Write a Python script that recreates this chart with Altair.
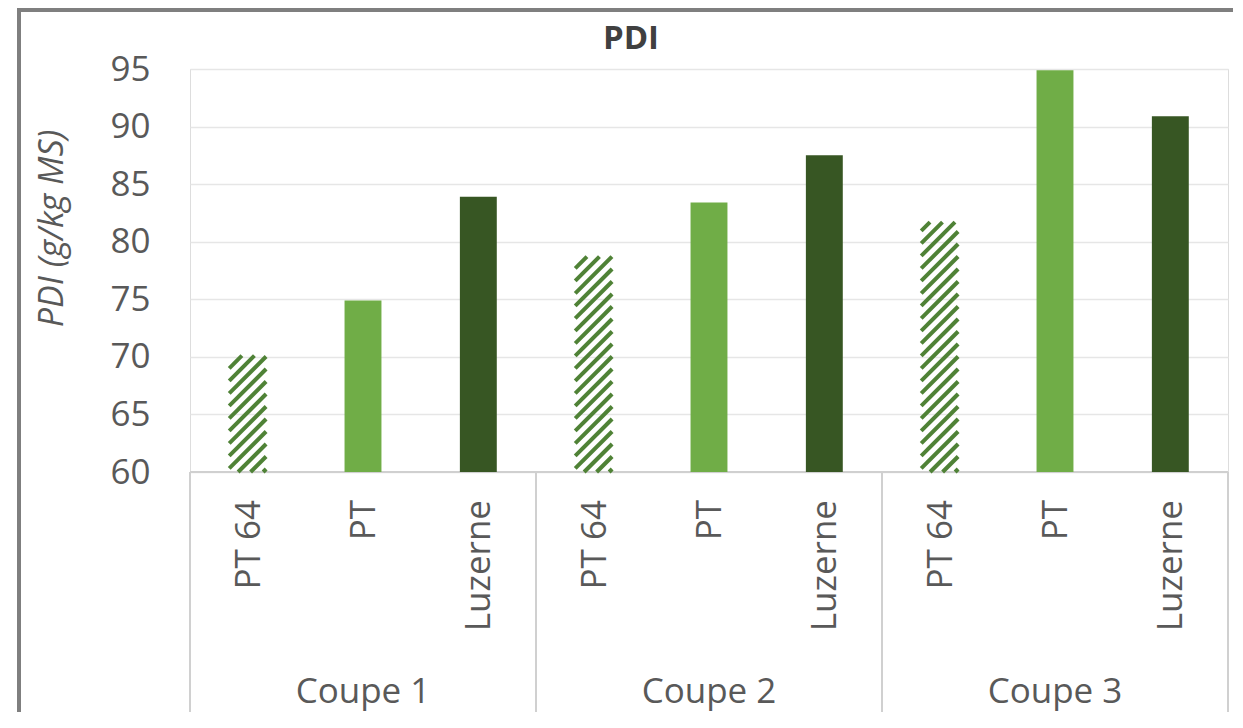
import altair as alt
import pandas as pd

# ---- data ----
groups = ["Coupe 1", "Coupe 2", "Coupe 3"]
varieties = ["PT 64", "PT", "Luzerne"]
pdi_pt64 = [70.1, 78.7, 81.7]
pdi_pt = [74.9, 83.4, 94.9]
pdi_luzerne = [83.9, 87.5, 90.9]
y_ticks = [60, 65, 70, 75, 80, 85, 90, 95]
chart_title = ["PDI"]

# ---- layout constants ----
W, H = 1038, 403
Y_MIN, Y_MAX = 60, 95
N_CAT = len(groups) * len(varieties)
HALF_BAR = 0.16
PX_X = W / N_CAT
PX_Y = H / (Y_MAX - Y_MIN)

series = {"PT 64": pdi_pt64, "PT": pdi_pt, "Luzerne": pdi_luzerne}
rows = []
for gi, g in enumerate(groups):
    for ti, t in enumerate(varieties):
        pos = gi * len(varieties) + ti + 0.5
        rows.append({"group": g, "variety": t, "value": series[t][gi],
                     "pos": pos, "x0": pos - HALF_BAR, "x1": pos + HALF_BAR,
                     "base": Y_MIN})
df = pd.DataFrame(rows)

# hatch segments for the PT 64 bars (45deg in pixel space), derived from values
PERIOD = 12.5
hatch = []
for r in rows:
    if r["variety"] != "PT 64":
        continue
    wpx = 2 * HALF_BAR * PX_X
    hpx = (r["value"] - Y_MIN) * PX_Y
    c = -wpx + 3.0
    while c < hpx:
        u0 = max(0.0, -c)
        u1 = min(wpx, hpx - c)
        if u1 > u0 + 0.5:
            hatch.append({"hx": r["x0"] + u0 / PX_X, "hy": Y_MIN + (u0 + c) / PX_Y,
                          "hx2": r["x0"] + u1 / PX_X, "hy2": Y_MIN + (u1 + c) / PX_Y})
        c += PERIOD
hatch_df = pd.DataFrame(hatch)

group_df = pd.DataFrame({"group": groups,
                         "gpos": [i * 3 + 1.5 for i in range(len(groups))]})
sep_df = pd.DataFrame({"sx": [0, 3, 6, 9]})
title_df = pd.DataFrame({"t": chart_title})

FONT = "Open Sans"
TXT = "#595959"

xscale = alt.Scale(domain=[0, N_CAT], nice=False, zero=False)
yscale = alt.Scale(domain=[Y_MIN, Y_MAX], nice=False, zero=False)

bars = alt.Chart(df).transform_filter(alt.datum.variety != "PT 64").mark_rect().encode(
    x=alt.X("x0:Q", scale=xscale, axis=None),
    x2="x1:Q",
    y=alt.Y("value:Q", scale=yscale,
            axis=alt.Axis(values=y_ticks, grid=True, gridColor="#e6e6e6", gridWidth=1.5,
                          domain=False, ticks=False, tickSize=0, labelPadding=40,
                          labelFont=FONT, labelFontSize=35, labelColor=TXT,
                          title="PDI (g/kg MS)", titleFont=FONT, titleFontSize=34,
                          titleFontStyle="italic", titleFontWeight="normal",
                          titleColor=TXT, titleAngle=270, titleAlign="center",
                          titleBaseline="alphabetic", titleX=-128, titleY=159)),
    y2="base:Q",
    color=alt.Color("variety:N",
                    scale=alt.Scale(domain=["PT", "Luzerne"], range=["#70AD47", "#375623"]),
                    legend=None),
)

hatch_layer = alt.Chart(hatch_df).mark_rule(color="#4f8236", strokeWidth=4.0, strokeCap="butt").encode(
    x=alt.X("hx:Q", scale=xscale), y=alt.Y("hy:Q", scale=yscale),
    x2="hx2:Q", y2="hy2:Q",
)

baseline = alt.Chart(sep_df).mark_rule(color="#d0d0d0", strokeWidth=2).encode(
    y=alt.datum(Y_MIN, scale=yscale)
)

seps = alt.Chart(sep_df).mark_rule(color="#d0d0d0", strokeWidth=2).encode(
    x=alt.X("sx:Q", scale=xscale), y=alt.value(H), y2=alt.value(H + 243)
)

cat_labels = alt.Chart(df).mark_text(angle=270, align="right", baseline="middle",
                                     font=FONT, fontSize=35, color=TXT, dy=1).encode(
    x=alt.X("pos:Q", scale=xscale), y=alt.value(431), text="variety:N"
)

grp_labels = alt.Chart(group_df).mark_text(align="center", baseline="alphabetic",
                                           font=FONT, fontSize=35, color=TXT).encode(
    x=alt.X("gpos:Q", scale=xscale), y=alt.value(634), text="group:N"
)

title_mark = alt.Chart(title_df).mark_text(align="center", baseline="alphabetic",
                                           font=FONT, fontSize=33, fontWeight="bold",
                                           color="#404040").encode(
    x=alt.value(441), y=alt.value(-20), text="t:N"
)

frame_left = alt.Chart(sep_df).mark_rule(color="#7f7f7f", strokeWidth=3.5).encode(
    x=alt.value(-171), y=alt.value(-61), y2=alt.value(H + 243)
)
frame_top = alt.Chart(sep_df).mark_rule(color="#7f7f7f", strokeWidth=3.5).encode(
    y=alt.value(-59), x=alt.value(-173), x2=alt.value(W + 5)
)

chart = alt.layer(
    baseline, bars, hatch_layer, seps, cat_labels, grp_labels, title_mark,
    frame_left, frame_top
).properties(
    width=W, height=H,
    autosize=alt.AutoSizeParams(type="none"),
    padding={"left": 182, "top": 61, "right": 5, "bottom": 240},
).configure_view(stroke=None).configure(background="white")

chart.save("out.html", embed_options={"renderer": "svg", "actions": False})
